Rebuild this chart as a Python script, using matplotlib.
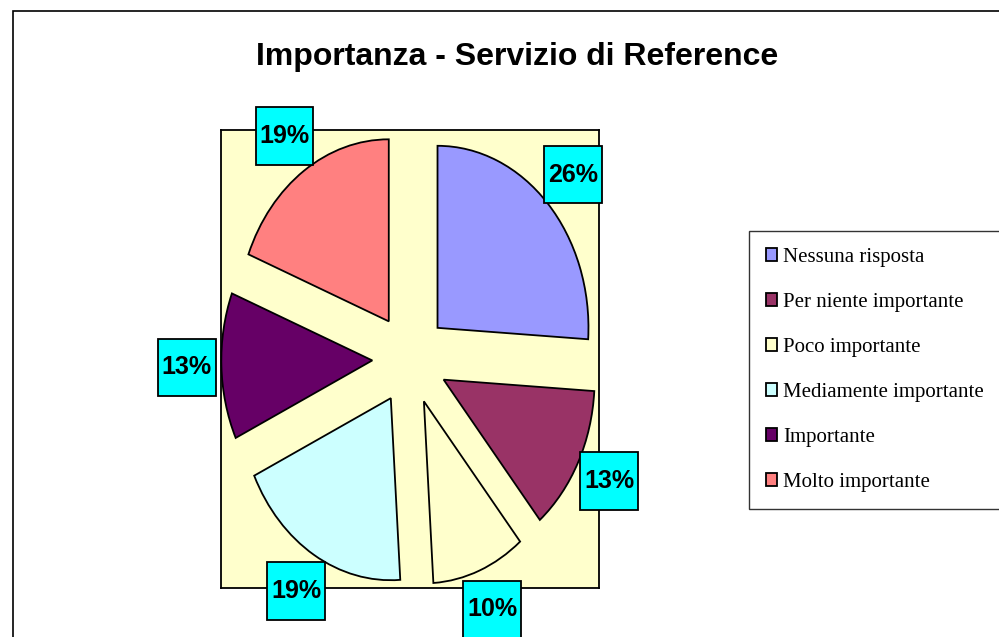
import numpy as np
import matplotlib.pyplot as plt
from matplotlib.path import Path
from matplotlib.patches import Rectangle

categorie = [
    "Nessuna risposta",
    "Per niente importante",
    "Poco importante",
    "Mediamente importante",
    "Importante",
    "Molto importante",
]
valori = [26, 13, 10, 19, 13, 19]
colori = ["#9999FF", "#993366", "#FFFFCC", "#CCFFFF", "#660066", "#FF8080"]


def box_quadrato(x0, y0, width, height, mutation_size):
    # etichetta in un quadrato centrato sul testo
    lato = max(width, height) + 0.3 * mutation_size
    cx, cy = x0 + width / 2, y0 + height / 2
    h = lato / 2
    return Path(
        [(cx - h, cy - h), (cx + h, cy - h), (cx + h, cy + h), (cx - h, cy + h), (cx - h, cy - h)],
        closed=True,
    )


fig = plt.figure(figsize=(9.99, 6.37), dpi=100)

# bordo esterno del grafico
fig.patches.append(
    Rectangle((13 / 999, -0.1), 1.2, 1 - 11 / 637 + 0.1, transform=fig.transFigure,
              fill=False, edgecolor="black", linewidth=1.2)
)

fig.text(0.518, 1 - 57 / 637, "Importanza - Servizio di Reference", ha="center", va="center",
         fontsize=23, fontweight="bold", family="Liberation Sans")

ax = fig.add_axes([221 / 999, 1 - 588 / 637, 378 / 999, 458 / 637])
ax.set_facecolor("#FFFFCC")

wedges, testi, autotesti = ax.pie(
    valori,
    colors=colori,
    startangle=90,
    counterclock=False,
    explode=[0.25] * len(valori),
    autopct="%1.0f%%",
    pctdistance=1.23,
    frame=True,
    wedgeprops={"edgecolor": "black", "linewidth": 1.3},
    textprops={"fontsize": 18, "fontweight": "bold", "family": "Liberation Sans"},
)
for t in autotesti:
    t.set_bbox({"boxstyle": box_quadrato, "facecolor": "#00FFFF", "edgecolor": "black", "linewidth": 1.3})
    t.set_clip_on(False)
    t.set_zorder(5)

ax.set_aspect("auto")
ax.set_xlim(-1.252, 1.252)
ax.set_ylim(-1.258, 1.258)
ax.set_xticks([])
ax.set_yticks([])
for s in ax.spines.values():
    s.set_linewidth(1.3)

leg = fig.legend(
    wedges, categorie,
    loc="upper left",
    bbox_to_anchor=(749 / 999, 1 - 231 / 637),
    prop={"family": "Liberation Serif", "size": 15},
    frameon=True,
    fancybox=False,
    edgecolor="black",
    handlelength=0.55,
    handleheight=0.55,
    handletextpad=0.3,
    labelspacing=1.25,
    borderpad=0.8,
    borderaxespad=0,
)
leg.get_frame().set_linewidth(1.0)
for h in leg.legend_handles:
    h.set_linewidth(1.3)

fig.savefig("out.png", dpi=100)
